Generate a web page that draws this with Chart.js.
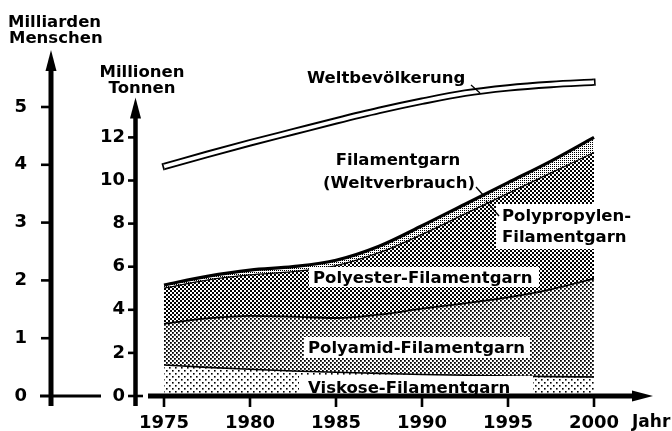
<!DOCTYPE html>
<html><head><meta charset="utf-8">
<script src="https://cdn.jsdelivr.net/npm/chart.js@4"></script>
<style>html,body{margin:0;padding:0;background:#fff;overflow:hidden}canvas{display:block}</style>
</head><body>
<canvas id="c" width="672" height="431"></canvas>
<script>
// ---- data ----
const years = [1975, 1977.5, 1980, 1982.5, 1985, 1987.5, 1990, 1992.5, 1995, 1997.5, 2000];
const viskose = [1.44, 1.33, 1.24, 1.16, 1.10, 1.05, 1.00, 0.96, 0.93, 0.90, 0.88];
const polyamid = [1.91, 2.27, 2.48, 2.52, 2.52, 2.73, 3.05, 3.34, 3.65, 4.05, 4.57];
const polyester = [1.65, 1.78, 1.90, 2.09, 2.43, 2.87, 3.45, 4.15, 4.82, 5.40, 5.85];
const polypropylen = [0.15, 0.17, 0.22, 0.23, 0.25, 0.30, 0.40, 0.45, 0.50, 0.55, 0.70];
const weltbevoelkerung = [3.97, 4.18, 4.38, 4.57, 4.76, 4.94, 5.10, 5.24, 5.33, 5.39, 5.43];
const xTicks = [1975, 1980, 1985, 1990, 1995, 2000];
const tonnenTicks = [0, 2, 4, 6, 8, 10, 12];
const menschenTicks = [0, 1, 2, 3, 4, 5];

const FONT = '"DejaVu Sans", "Liberation Sans", sans-serif';
const pts = arr => arr.map((v, i) => ({x: years[i], y: v}));

function makePattern(size, draw) {
  const c = document.createElement('canvas');
  c.width = size; c.height = size;
  const g = c.getContext('2d');
  g.fillStyle = '#fff'; g.fillRect(0, 0, size, size);
  g.fillStyle = '#000';
  draw(g);
  return g.createPattern(c, 'repeat');
}
const patViskose = makePattern(6, g => { g.fillRect(1, 1, 1.6, 1.6); g.fillRect(4, 4, 1.6, 1.6); });
const patPolyamid = makePattern(4, g => { g.fillRect(0, 0, 1.8, 1.8); g.fillRect(2, 2, 1.8, 1.8); });
const patPolyester = makePattern(4, g => { g.fillRect(0, 0, 2, 2); g.fillRect(2, 2, 2, 2); });
const patPolypropylen = makePattern(2, g => { g.fillRect(0, 0, 1, 1); });

const common = {pointRadius: 0, cubicInterpolationMode: 'monotone', borderColor: '#000', yAxisID: 'yT', stack: 'garn'};

const decor = {
  id: 'decor',
  afterDatasetsDraw(chart) {
    const {ctx, scales: {x, yP}} = chart;
    ctx.save();
    // close ends of the population band
    ctx.strokeStyle = '#000'; ctx.lineWidth = 1.6;
    [[0, 1], [years.length - 1, years.length - 2]].forEach(([i, j]) => {
      const x1 = x.getPixelForValue(years[i]), y1 = yP.getPixelForValue(weltbevoelkerung[i]);
      const x2 = x.getPixelForValue(years[j]), y2 = yP.getPixelForValue(weltbevoelkerung[j]);
      const dx = x2 - x1, dy = y2 - y1, L = Math.hypot(dx, dy);
      const nx = -dy / L * 3.6, ny = dx / L * 3.6;
      const ox = -dx / L * 0.8, oy = -dy / L * 0.8;
      ctx.beginPath(); ctx.moveTo(x1 + nx + ox, y1 + ny + oy); ctx.lineTo(x1 - nx + ox, y1 - ny + oy); ctx.stroke();
    });
    // label backgrounds
    ctx.fillStyle = '#fff';
    ctx.fillRect(309, 267, 230, 20);
    ctx.fillRect(304, 337, 226, 21);
    ctx.fillRect(299, 376, 234, 18);
    ctx.fillRect(496, 204, 155, 45);
    // labels
    ctx.fillStyle = '#000';
    ctx.font = 'bold 16.5px ' + FONT;
    ctx.textBaseline = 'alphabetic';
    ctx.textAlign = 'left';
    ctx.fillText('Milliarden', 8, 27);
    ctx.fillText('Menschen', 9, 43);
    ctx.fillText('Weltbevölkerung', 307, 83);
    ctx.fillText('Polypropylen-', 502, 221);
    ctx.fillText('Filamentgarn', 502, 242);
    ctx.fillText('Polyester-Filamentgarn', 313, 283);
    ctx.fillText('Polyamid-Filamentgarn', 308, 353);
    ctx.fillText('Viskose-Filamentgarn', 308, 393);
    ctx.textAlign = 'center';
    ctx.fillText('Millionen', 142, 77);
    ctx.fillText('Tonnen', 142, 93);
    ctx.fillText('Filamentgarn', 398, 165);
    ctx.fillText('(Weltverbrauch)', 399, 188);
    // leader lines
    ctx.lineWidth = 1.3;
    ctx.beginPath();
    ctx.moveTo(471, 85); ctx.lineTo(480, 93);
    ctx.moveTo(476, 187); ctx.lineTo(484, 196);
    ctx.moveTo(499, 216); ctx.lineTo(486, 201);
    ctx.stroke();
    ctx.restore();
  },
  afterDraw(chart) {
    const {ctx, scales: {x, yT, yP}} = chart;
    const y0 = yT.getPixelForValue(0);
    ctx.save();
    ctx.strokeStyle = '#000'; ctx.fillStyle = '#000';
    ctx.lineCap = 'butt';
    const seg = (a, b, c, d, w) => { ctx.lineWidth = w; ctx.beginPath(); ctx.moveTo(a, b); ctx.lineTo(c, d); ctx.stroke(); };
    const tri = (p) => { ctx.beginPath(); ctx.moveTo(p[0], p[1]); ctx.lineTo(p[2], p[3]); ctx.lineTo(p[4], p[5]); ctx.closePath(); ctx.fill(); };
    // population axis
    const px = 51;
    seg(px, 406, px, 66, 5);
    tri([px, 50, px - 5.5, 71, px + 5.5, 71]);
    menschenTicks.forEach(t => { if (t > 0) { const yy = yP.getPixelForValue(t); seg(px - 10, yy, px, yy, 2.6); } });
    seg(40, y0, 101, y0, 3);
    // tonnes axis
    const tx = 135.5;
    const tTop = yT.getPixelForValue(13.85);
    seg(tx, 406, tx, tTop + 16, 4.5);
    tri([tx, tTop, tx - 5.5, tTop + 21, tx + 5.5, tTop + 21]);
    tonnenTicks.forEach(t => { const yy = yT.getPixelForValue(t); seg(128, yy, t === 0 ? 143 : tx, yy, 2.6); });
    // x axis
    seg(148, y0, 636, y0, 5);
    tri([653, y0, 632, y0 - 5.5, 632, y0 + 5.5]);
    xTicks.forEach(t => { const xx = x.getPixelForValue(t); seg(xx, y0, xx, 407, 2.6); });
    ctx.font = 'bold 17px ' + FONT;
    ctx.textAlign = 'left';
    ctx.textBaseline = 'alphabetic';
    ctx.fillText('Jahr', 632, 427);
    ctx.restore();
  }
};

new Chart(document.getElementById('c'), {
  type: 'line',
  data: {
    datasets: [
      {label: 'Weltbevölkerung', data: pts(weltbevoelkerung), yAxisID: 'yP', borderColor: '#fff', borderWidth: 3.6, pointRadius: 0, fill: false, cubicInterpolationMode: 'monotone', borderCapStyle: 'butt'},
      {label: 'Weltbevölkerung Rand', data: pts(weltbevoelkerung), yAxisID: 'yP', borderColor: '#000', borderWidth: 7.4, pointRadius: 0, fill: false, cubicInterpolationMode: 'monotone', borderCapStyle: 'butt'},
      {...common, label: 'Viskose-Filamentgarn', data: pts(viskose), backgroundColor: patViskose, borderWidth: 1.6, fill: 'origin'},
      {...common, label: 'Polyamid-Filamentgarn', data: pts(polyamid), backgroundColor: patPolyamid, borderWidth: 1.8, fill: '-1'},
      {...common, label: 'Polyester-Filamentgarn', data: pts(polyester), backgroundColor: patPolyester, borderWidth: 1.3, fill: '-1'},
      {...common, label: 'Polypropylen-Filamentgarn', data: pts(polypropylen), backgroundColor: patPolypropylen, borderWidth: 3.2, fill: '-1'}
    ]
  },
  options: {
    responsive: false,
    animation: false,
    events: [],
    devicePixelRatio: 1,
    layout: {padding: {top: 50, right: 19, bottom: 0, left: 0}},
    plugins: {legend: {display: false}, tooltip: {enabled: false}},
    scales: {
      x: {
        type: 'linear', min: 1974.07, max: 2003.43,
        grid: {display: false, drawTicks: false}, border: {display: false},
        afterBuildTicks: s => { s.ticks = xTicks.map(v => ({value: v})); },
        afterFit: s => { s.height = 35; },
        ticks: {color: '#000', font: {family: FONT, size: 18, weight: 'bold'}, padding: 17, maxRotation: 0, autoSkip: false, callback: v => String(v)}
      },
      yT: {
        type: 'linear', position: 'left', weight: 0, min: 0, max: 346 / 21.55, stacked: true,
        grid: {display: false, drawTicks: false}, border: {display: false},
        afterBuildTicks: s => { s.ticks = tonnenTicks.map(v => ({value: v})); },
        afterFit: s => { s.width = 116; },
        ticks: {color: '#000', font: {family: FONT, size: 18, weight: 'bold'}, padding: 23, autoSkip: false, callback: v => String(v)}
      },
      yP: {
        type: 'linear', position: 'left', weight: 1, min: 0, max: 346 / 57.8,
        grid: {display: false, drawTicks: false}, border: {display: false},
        afterBuildTicks: s => { s.ticks = menschenTicks.map(v => ({value: v})); },
        afterFit: s => { s.width = 32; },
        ticks: {color: '#000', font: {family: FONT, size: 18, weight: 'bold'}, padding: 5, autoSkip: false, callback: v => String(v)}
      }
    }
  },
  plugins: [decor]
});
</script>
</body></html>
